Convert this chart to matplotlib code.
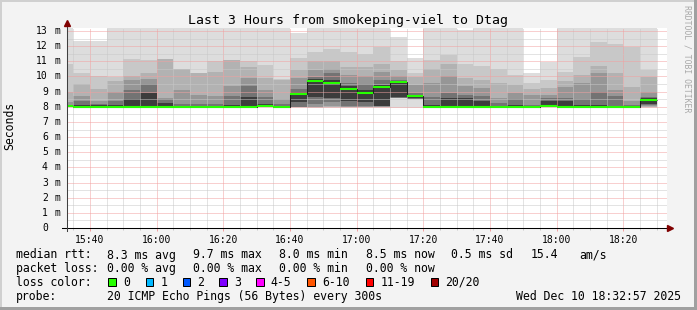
import matplotlib
matplotlib.use("Agg")
import matplotlib.pyplot as plt
import matplotlib.ticker as mticker
from matplotlib.lines import Line2D
from matplotlib.patches import Rectangle
import numpy as np

plt.rcParams["font.family"] = ["DejaVu Sans Mono"]

# 5-minute bins (start time of each bin)
bin_start = [
    "15:30", "15:35", "15:40", "15:45", "15:50", "15:55",
    "16:00", "16:05", "16:10", "16:15", "16:20", "16:25",
    "16:30", "16:35", "16:40", "16:45", "16:50", "16:55",
    "17:00", "17:05", "17:10", "17:15", "17:20", "17:25",
    "17:30", "17:35", "17:40", "17:45", "17:50", "17:55",
    "18:00", "18:05", "18:10", "18:15", "18:20", "18:25",
]

# median rtt per bin (ms)
median = [
    8.05, 7.98, 7.98, 7.98, 7.98, 7.98,
    7.98, 7.98, 7.98, 7.98, 7.98, 7.98,
    8.08, 7.98, 8.85, 9.72, 9.60, 9.20,
    8.90, 9.28, 9.63, 8.70, 7.98, 7.98,
    7.98, 7.98, 7.98, 7.98, 7.98, 8.07,
    7.98, 7.98, 7.98, 7.98, 7.98, 8.45,
]

# smoke band tops (ms), outer/light band first -> inner/dark band last
# 14.0 = above the visible range
smoke_top_1 = [14.0, 12.35, 12.35, 14.0, 14.0, 14.0, 14.0, 14.0, 14.0, 14.0, 14.0, 14.0,
               14.0, 14.0, 12.9, 14.0, 14.0, 14.0, 14.0, 14.0, 12.6, 11.2, 14.0, 14.0,
               13.1, 14.0, 14.0, 14.0, 10.2, 10.98, 14.0, 14.0, 14.0, 14.0, 14.0, 14.0]
smoke_top_2 = [10.8, 10.2, 10.0, 9.95, 11.15, 11.1, 11.15, 10.5, 10.25, 11.0, 11.07, 11.0,
               10.75, 9.85, 11.2, 11.6, 11.8, 11.6, 11.5, 11.95, 11.0, 10.2, 11.1, 11.4,
               10.85, 10.7, 10.5, 10.1, 9.6, 9.75, 10.3, 11.3, 12.3, 12.15, 11.95, 10.4]
smoke_top_3 = [9.0, 9.5, 9.2, 9.7, 10.05, 10.2, 11.15, 10.5, 10.2, 10.3, 11.07, 10.6,
               9.9, 9.8, 10.4, 11.0, 11.0, 10.65, 10.6, 10.85, 10.4, 9.95, 10.5, 10.85,
               9.9, 9.8, 9.55, 9.45, 9.2, 9.25, 9.7, 10.1, 10.7, 10.2, 9.3, 9.95]
smoke_top_4 = [8.3, 8.7, 8.4, 9.0, 9.8, 9.85, 8.55, 9.1, 8.8, 8.7, 9.4, 9.9,
               9.1, 8.5, 9.9, 10.4, 10.5, 10.1, 10.0, 10.3, 10.0, 9.45, 9.55, 10.0,
               9.35, 9.25, 8.55, 8.9, 8.75, 8.8, 9.3, 9.6, 10.2, 9.1, 8.4, 9.0]
smoke_top_5 = [8.15, 8.35, 8.2, 8.4, 9.1, 9.5, 8.5, 8.2, 8.2, 8.2, 8.7, 9.35,
               8.65, 8.2, 9.2, 9.95, 10.2, 9.55, 9.5, 9.8, 9.8, 8.9, 8.65, 8.9,
               8.8, 8.7, 8.25, 8.5, 8.1, 8.55, 8.6, 8.5, 8.95, 8.7, 8.1, 8.65]
smoke_top_6 = [8.08, 8.1, 8.1, 8.1, 8.5, 8.9, 8.25, 8.05, 8.05, 8.05, 8.1, 8.65,
               8.2, 8.05, 9.0, 9.85, 9.75, 9.35, 9.1, 9.45, 9.7, 8.75, 8.1, 8.6,
               8.55, 8.35, 8.05, 8.1, 8.05, 8.35, 8.35, 8.1, 8.1, 8.05, 8.05, 8.55]

# smoke band bottoms (ms), same order
smoke_low_1 = [7.97] * 14 + [7.95, 7.92, 7.95, 7.95, 7.95, 7.95, 7.95, 7.95] + [7.97] * 13 + [7.95]
smoke_low_2 = [7.97] * 14 + [7.96, 7.95, 7.97, 7.97, 7.97, 7.97, 8.55, 8.5] + [7.97] * 13 + [7.97]
smoke_low_3 = [7.97] * 14 + [7.97, 7.97, 8.0, 7.98, 7.98, 7.98, 8.55, 8.5] + [7.97] * 13 + [8.0]
smoke_low_4 = [7.97] * 14 + [7.98, 8.0, 8.05, 8.0, 8.0, 8.0, 8.58, 8.52] + [7.97] * 13 + [8.05]
smoke_low_5 = [7.97] * 14 + [8.0, 8.2, 8.3, 8.02, 8.02, 8.02, 8.6, 8.52] + [7.97] * 13 + [8.1]
smoke_low_6 = [7.97] * 14 + [8.3, 8.65, 8.6, 8.35, 8.3, 8.05, 8.62, 8.55] + [7.97] * 13 + [8.2]

shades = ["#dddddd", "#c8c8c8", "#b2b2b2", "#969696", "#737373", "#3c3c3c"]

legend_colors = ["#26ff00", "#00b8ff", "#0059ff", "#7e00ff", "#ff00ff", "#ff5500", "#ff0000", "#a00000"]
legend_labels = ["0", "1", "2", "3", "4-5", "6-10", "11-19", "20/20"]

FIG_W, FIG_H = 697, 310
T0 = 32.95   # 15:32:57, minutes after 15:00
T1 = 212.95  # 18:32:57


def fx(x):
    return x / FIG_W


def fy(y):
    return 1 - y / FIG_H


def minutes(hhmm):
    h, m = hhmm.split(":")
    return (int(h) - 15) * 60 + int(m)


fig = plt.figure(figsize=(FIG_W / 100, FIG_H / 100), dpi=100, facecolor="#f3f3f3")
ax = fig.add_axes([fx(66.5), fy(228), 600 / FIG_W, 200 / FIG_H])
ax.set_facecolor("white")

starts = np.array([minutes(s) for s in bin_start], dtype=float)
edges = np.append(starts, starts[-1] + 5)

tops = [smoke_top_1, smoke_top_2, smoke_top_3, smoke_top_4, smoke_top_5, smoke_top_6]
lows = [smoke_low_1, smoke_low_2, smoke_low_3, smoke_low_4, smoke_low_5, smoke_low_6]
for top, low, shade in zip(tops, lows, shades):
    ax.stairs(top, edges, baseline=low, fill=True, color=shade, linewidth=0, zorder=1)

ax.stairs(median, edges, baseline=None, color="#202020", linewidth=0.75, zorder=3)
ax.hlines(median, edges[:-1], edges[1:], colors="#26ff00", linewidth=1.5, zorder=4)

ax.set_xlim(T0, T1)
ax.set_ylim(0, 13.2)
for s in ax.spines.values():
    s.set_visible(False)

ax.xaxis.set_major_locator(mticker.MultipleLocator(20))
ax.xaxis.set_minor_locator(mticker.MultipleLocator(5))
ax.xaxis.set_major_formatter(mticker.FuncFormatter(
    lambda v, _: f"{15 + int(v) // 60:02d}:{int(v) % 60:02d}"))
ax.yaxis.set_major_locator(mticker.MultipleLocator(1))
ax.yaxis.set_minor_locator(mticker.MultipleLocator(0.5))
ax.set_axisbelow(False)
ax.grid(which="minor", color="#c8c8c8", linestyle=(0, (1, 1)), linewidth=0.72)
ax.grid(which="major", color="#f2a0a0", linestyle=(0, (1, 1)), linewidth=0.72)

ax.tick_params(axis="x", which="major", length=2.2, width=0.72, color="#f2a0a0",
               labelsize=7, pad=2.6)
ax.tick_params(axis="x", which="minor", length=1.5, width=0.72, color="#c8c8c8")
ax.tick_params(axis="y", which="both", length=0, labelleft=False)

# y labels: number and unit as separate columns like rrdtool
ytrans = ax.get_yaxis_transform()
for v in range(0, 14):
    ax.text((47.8 - 66.5) / 600, v, str(v), transform=ytrans, ha="right", va="center",
            fontsize=7)
    if v > 0:
        ax.text((54.6 - 66.5) / 600, v, "m", transform=ytrans, ha="left", va="center",
                fontsize=7)

# axes lines with arrows
fig.add_artist(Line2D([fx(62), fx(668)], [fy(228), fy(228)], color="black", linewidth=0.75))
fig.add_artist(Line2D([fx(67), fx(67)], [fy(231), fy(24)], color="#404040", linewidth=0.75))
fig.add_artist(Line2D([fx(670)], [fy(228)], marker=">", markersize=4, color="#800000",
                      linewidth=0))
fig.add_artist(Line2D([fx(67)], [fy(23)], marker="^", markersize=4, color="#800000",
                      linewidth=0))

# frame shading
fig.add_artist(Rectangle((0, fy(2)), 1, 2 / FIG_H, transform=fig.transFigure,
                         color="#d0d0d0", linewidth=0))
fig.add_artist(Rectangle((0, 0), fx(2), 1, transform=fig.transFigure,
                         color="#d0d0d0", linewidth=0))
fig.add_artist(Rectangle((fx(694), 0), fx(3), 1, transform=fig.transFigure,
                         color="#a0a0a0", linewidth=0))
fig.add_artist(Rectangle((0, 0), 1, 3 / FIG_H, transform=fig.transFigure,
                         color="#a0a0a0", linewidth=0))

fig.text(fx(347.5), fy(24), "Last 3 Hours from smokeping-viel to Dtag", ha="center",
         va="baseline", fontsize=9.5)
fig.text(fx(10), fy(126), "Seconds", rotation=90, ha="center", va="center", fontsize=8.3)
fig.text(fx(686.5), fy(59), "RRDTOOL / TOBI OETIKER", rotation=270, ha="center",
         va="center", fontsize=5.9, color="#a8a8a8")

LEG = 8.3
row1, row2, row3, row4 = 258.5, 272.2, 285.9, 299.6
fig.text(fx(16), fy(row1), "median rtt:", fontsize=LEG, va="baseline")
for x, s in [(107.3, "8.3 ms avg"), (193.3, "9.7 ms max"), (279.3, "8.0 ms min"),
             (365.7, "8.5 ms now"), (451, "0.5 ms sd"), (530.7, "15.4"), (579, "am/s")]:
    fig.text(fx(x), fy(row1), s, fontsize=LEG, va="baseline")

fig.text(fx(16), fy(row2), "packet loss:", fontsize=LEG, va="baseline")
for x, s in [(107.3, "0.00 % avg"), (193.3, "0.00 % max"), (279.3, "0.00 % min"),
             (365.7, "0.00 % now")]:
    fig.text(fx(x), fy(row2), s, fontsize=LEG, va="baseline")

fig.text(fx(16), fy(row3), "loss color:", fontsize=LEG, va="baseline")
box_x = [108.3, 145.7, 182.7, 219.3, 256, 307.3, 365.7, 430.7]
for bx, c, lab in zip(box_x, legend_colors, legend_labels):
    fig.add_artist(Rectangle((fx(bx), fy(row3)), 7.5 / FIG_W, 7.5 / FIG_H,
                             transform=fig.transFigure, facecolor=c,
                             edgecolor="black", linewidth=0.72))
    fig.text(fx(bx + 14.7), fy(row3), lab, fontsize=LEG, va="baseline")

fig.text(fx(16), fy(row4), "probe:", fontsize=LEG, va="baseline")
fig.text(fx(107.3), fy(row4), "20 ICMP Echo Pings (56 Bytes) every 300s", fontsize=LEG,
         va="baseline")
fig.text(fx(680.7), fy(row4), "Wed Dec 10 18:32:57 2025", fontsize=LEG, va="baseline",
         ha="right")

fig.savefig("out.png", dpi=100, facecolor=fig.get_facecolor())
